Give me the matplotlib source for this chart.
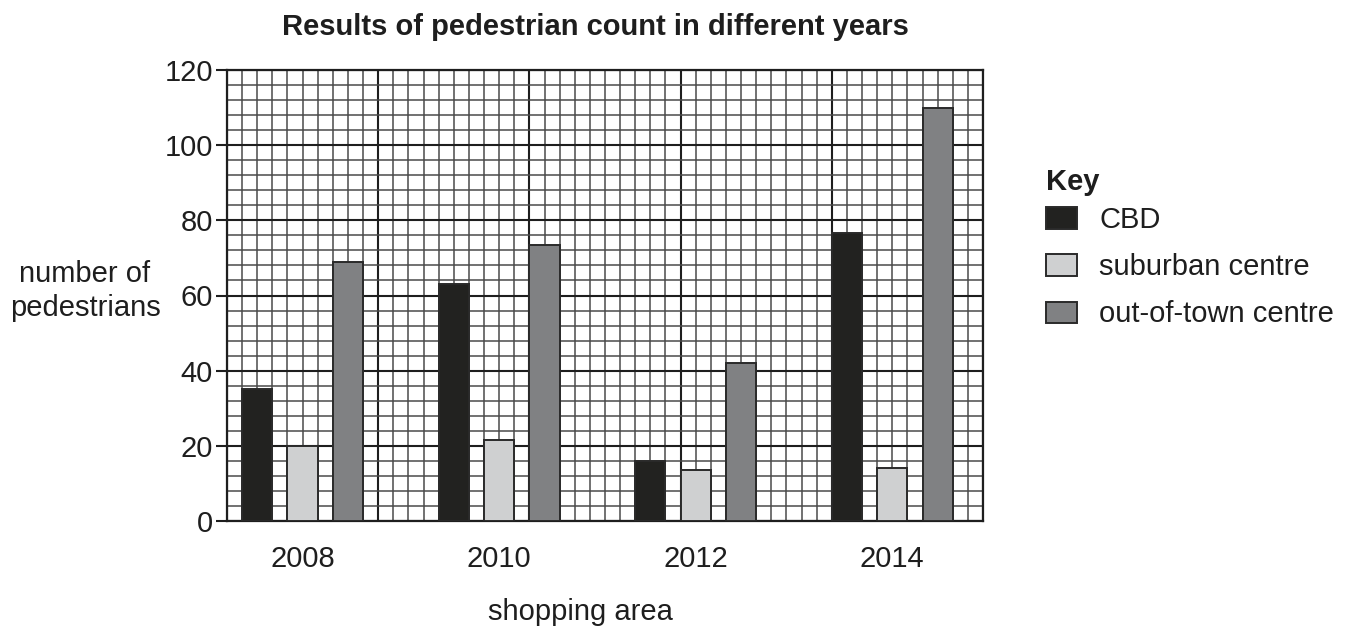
#!/usr/bin/env python3
"""Pedestrian count bar chart on graph-paper grid."""

import numpy as np
import matplotlib
matplotlib.use("Agg")
import matplotlib.pyplot as plt
from matplotlib.ticker import MultipleLocator

plt.rcParams['font.family'] = ['Liberation Sans', 'DejaVu Sans']

years = ['2008', '2010', '2012', '2014']
series = ['CBD', 'suburban centre', 'out-of-town centre']
cbd = [35, 63, 16, 76.5]
suburban = [20, 21.5, 13.5, 14]
out_of_town = [69, 73.5, 42, 110]
colours = ['#222220', '#cfd0d1', '#808183']

FS = 21

fig = plt.figure(figsize=(13.53, 6.33), dpi=100)
ax = fig.add_axes([227 / 1353, 1 - 521 / 633, (983 - 227) / 1353, (521 - 70) / 633])

centres = np.arange(len(years)) * 13 + 5
handles = []
for i, (vals, name) in enumerate(zip([cbd, suburban, out_of_town], series)):
    b = ax.bar(centres + (i - 1) * 3, vals, width=2, color=colours[i],
               edgecolor='#2a2a2a', linewidth=1.4, label=name, zorder=3)
    handles.append(b)

# graph paper
ax.set_xlim(0, 50)
ax.set_ylim(0, 120)
ax.xaxis.set_major_locator(MultipleLocator(10))
ax.xaxis.set_minor_locator(MultipleLocator(1))
ax.yaxis.set_major_locator(MultipleLocator(20))
ax.yaxis.set_minor_locator(MultipleLocator(4))
ax.grid(which='major', color='#1e1e1e', linewidth=1.5, zorder=1)
ax.grid(which='minor', color='#4a4a4a', linewidth=1.1, zorder=0)
ax.set_axisbelow(True)
for s in ax.spines.values():
    s.set_color('#1e1e1e')
    s.set_linewidth(1.6)

ax.tick_params(axis='x', which='both', length=0, labelbottom=False)
ax.tick_params(axis='y', which='major', length=8, width=1.5, color='#1e1e1e',
               labelsize=FS, pad=2, labelcolor='#1e1e1e')
ax.tick_params(axis='y', which='minor', length=0)

sec = ax.secondary_xaxis('bottom')
sec.set_xticks(centres)
sec.set_xticklabels(years)
sec.tick_params(length=0, labelsize=FS, pad=17, labelcolor='#1e1e1e')
sec.spines['bottom'].set_visible(False)

fig.text(580 / 1353, 1 - 612 / 633, 'shopping area', ha='center', va='center',
         fontsize=FS, color='#1e1e1e')
fig.text(85 / 1353, 1 - 291 / 633, 'number of\npedestrians', ha='center', va='center',
         fontsize=FS, color='#1e1e1e', linespacing=1.25)
fig.text(595 / 1353, 1 - 27 / 633, 'Results of pedestrian count in different years',
         ha='center', va='center', fontsize=21, fontweight='bold', color='#1e1e1e')

# key
fig.text(1046 / 1353, 1 - 182 / 633, 'Key', ha='left', va='center',
         fontsize=FS, fontweight='bold', color='#1e1e1e')
leg = fig.legend(handles=handles, labels=series, loc='upper left',
                 bbox_to_anchor=(1046 / 1353, 1 - 206 / 633), frameon=False,
                 fontsize=FS, handlelength=1.07, handleheight=0.75,
                 labelspacing=0.66, handletextpad=0.75, borderpad=0,
                 borderaxespad=0)
for t in leg.get_texts():
    t.set_color('#1e1e1e')

fig.savefig('out.png', dpi=100)
